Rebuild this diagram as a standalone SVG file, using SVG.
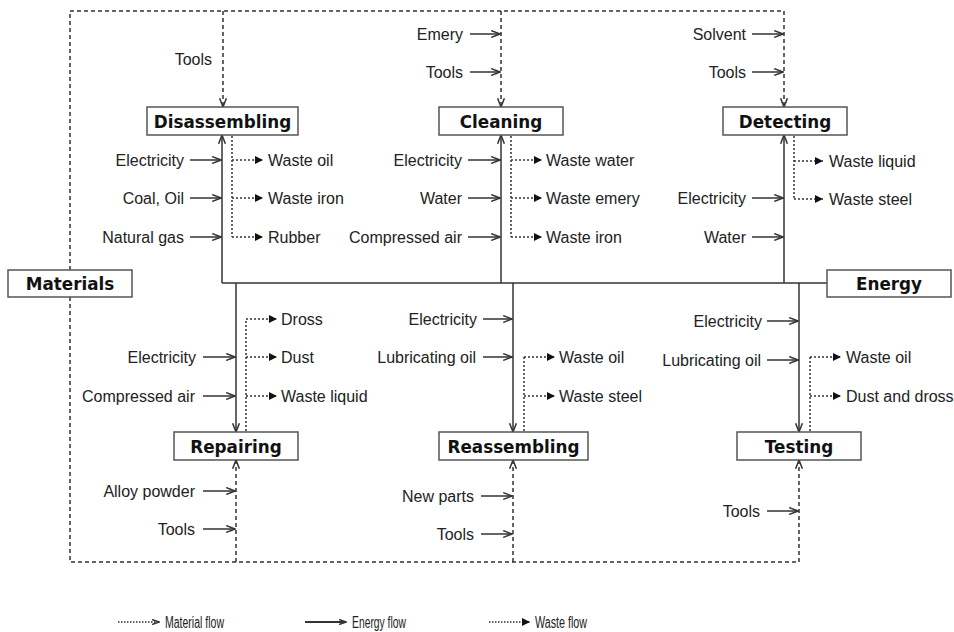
<svg xmlns="http://www.w3.org/2000/svg" width="954" height="632" viewBox="0 0 954 632">
<defs>
<marker id="open" viewBox="0 0 10 8" refX="9.3" refY="4" markerWidth="10" markerHeight="8" markerUnits="userSpaceOnUse" orient="auto">
<path d="M0.5,0.6 L9.3,4 L0.5,7.4" fill="none" stroke="#333" stroke-width="1.5"/>
</marker>
<marker id="sopen" viewBox="0 0 8 6" refX="7.5" refY="3" markerWidth="8" markerHeight="6" markerUnits="userSpaceOnUse" orient="auto">
<path d="M0.5,0.5 L7.5,3 L0.5,5.5" fill="none" stroke="#333" stroke-width="1.5"/>
</marker>
<marker id="tri" viewBox="0 0 8 8" refX="8" refY="4" markerWidth="8" markerHeight="8" markerUnits="userSpaceOnUse" orient="auto">
<path d="M0,0 L8,4 L0,8 z" fill="#111"/>
</marker>
<style>
.box{fill:#fff;stroke:#555;stroke-width:1.5}
.bl{font-family:"DejaVu Sans","Liberation Sans",Arial,sans-serif;font-weight:bold;font-size:16.8px;fill:#111;text-anchor:middle}
.t{font-family:"Liberation Sans",Arial,sans-serif;font-size:16px;fill:#222}
.e{text-anchor:end}
.lg{font-family:"Liberation Sans",Arial,sans-serif;font-size:16px;fill:#222}
.en{fill:none;stroke:#333;stroke-width:1.5}
.ea{fill:none;stroke:#333;stroke-width:1.5;marker-end:url(#open)}
.ma{fill:none;stroke:#333;stroke-width:1.5;stroke-dasharray:4 3}
.maa{fill:none;stroke:#333;stroke-width:1.5;stroke-dasharray:4 3;marker-end:url(#open)}
.w{fill:none;stroke:#333;stroke-width:1.5;stroke-dasharray:2 2}
.wa{fill:none;stroke:#333;stroke-width:1.5;stroke-dasharray:2 2;marker-end:url(#tri)}
</style>
</defs>

<g id="connectors">
<!-- material flow frame -->
<path class="ma" d="M70,270 V11 H784"/>
<path class="ma" d="M70,297 V562 H799"/>
<path class="maa" d="M223,11 V107"/>
<path class="maa" d="M501,11 V107"/>
<path class="maa" d="M784,11 V107"/>
<path class="maa" d="M236,562 V460"/>
<path class="maa" d="M513,562 V460"/>
<path class="maa" d="M799,562 V460"/>
<!-- energy bus -->
<path class="en" d="M222,283 H827"/>
<path class="ea" d="M222,283 V135"/>
<path class="ea" d="M501,283 V135"/>
<path class="ea" d="M784,283 V135"/>
<path class="ea" d="M236,283 V432"/>
<path class="ea" d="M513,283 V432"/>
<path class="ea" d="M799,283 V432"/>
<!-- input arrows: disassembling -->
<path class="ea" d="M190,160 H221"/>
<path class="ea" d="M190,198 H221"/>
<path class="ea" d="M190,237 H221"/>
<!-- cleaning -->
<path class="ea" d="M470,34 H500"/>
<path class="ea" d="M470,72 H500"/>
<path class="ea" d="M468,160 H500"/>
<path class="ea" d="M468,198 H500"/>
<path class="ea" d="M468,237 H500"/>
<!-- detecting -->
<path class="ea" d="M752,34 H783"/>
<path class="ea" d="M752,72 H783"/>
<path class="ea" d="M752,198 H783"/>
<path class="ea" d="M752,237 H783"/>
<!-- repairing -->
<path class="ea" d="M203,357 H235"/>
<path class="ea" d="M203,396 H235"/>
<path class="ea" d="M203,491 H235"/>
<path class="ea" d="M203,529 H235"/>
<!-- reassembling -->
<path class="ea" d="M483,319 H512"/>
<path class="ea" d="M483,357 H512"/>
<path class="ea" d="M481,496 H512"/>
<path class="ea" d="M481,534 H512"/>
<!-- testing -->
<path class="ea" d="M767,321 H798"/>
<path class="ea" d="M767,360 H798"/>
<path class="ea" d="M767,511 H798"/>
<!-- waste: disassembling -->
<path class="w" d="M232,136 V237"/>
<path class="wa" d="M232,160 H263"/>
<path class="wa" d="M232,198 H263"/>
<path class="wa" d="M232,237 H263"/>
<!-- waste: cleaning -->
<path class="w" d="M511,136 V237"/>
<path class="wa" d="M511,160 H542"/>
<path class="wa" d="M511,198 H542"/>
<path class="wa" d="M511,237 H542"/>
<!-- waste: detecting -->
<path class="w" d="M794,136 V199"/>
<path class="wa" d="M794,161 H823"/>
<path class="wa" d="M794,199 H823"/>
<!-- waste: repairing -->
<path class="w" d="M246,431 V319"/>
<path class="wa" d="M246,319 H277"/>
<path class="wa" d="M246,357 H277"/>
<path class="wa" d="M246,396 H277"/>
<!-- waste: reassembling -->
<path class="w" d="M524,431 V357"/>
<path class="wa" d="M524,357 H555"/>
<path class="wa" d="M524,396 H555"/>
<!-- waste: testing -->
<path class="w" d="M810,431 V357"/>
<path class="wa" d="M810,357 H841"/>
<path class="wa" d="M810,396 H841"/>
</g>

<g id="materials"><rect class="box" x="8" y="270" width="124" height="27"/><text class="bl" x="70" y="290">Materials</text></g>
<g id="energy"><rect class="box" x="827" y="270" width="124" height="27"/><text class="bl" x="889" y="290">Energy</text></g>
<g id="disassembling"><rect class="box" x="147" y="107" width="151" height="28"/><text class="bl" x="222.5" y="127.5">Disassembling</text></g>
<g id="cleaning"><rect class="box" x="439" y="107" width="124" height="28"/><text class="bl" x="501" y="127.5">Cleaning</text></g>
<g id="detecting"><rect class="box" x="723" y="107" width="124" height="28"/><text class="bl" x="785" y="127.5">Detecting</text></g>
<g id="repairing"><rect class="box" x="174" y="432" width="124" height="28"/><text class="bl" x="236" y="452.5">Repairing</text></g>
<g id="reassembling"><rect class="box" x="439" y="432" width="149" height="28"/><text class="bl" x="513.5" y="452.5">Reassembling</text></g>
<g id="testing"><rect class="box" x="737" y="432" width="124" height="28"/><text class="bl" x="799" y="452.5">Testing</text></g>

<g id="labels">
<text class="t e" x="212" y="64.5">Tools</text>
<text class="t e" x="184" y="165.5">Electricity</text>
<text class="t e" x="184" y="203.5">Coal, Oil</text>
<text class="t e" x="184" y="242.5">Natural gas</text>
<text class="t" x="268" y="165.5">Waste oil</text>
<text class="t" x="268" y="203.5">Waste iron</text>
<text class="t" x="268" y="242.5">Rubber</text>

<text class="t e" x="463" y="39.5">Emery</text>
<text class="t e" x="463" y="77.5">Tools</text>
<text class="t e" x="462" y="165.5">Electricity</text>
<text class="t e" x="462" y="203.5">Water</text>
<text class="t e" x="462" y="242.5">Compressed air</text>
<text class="t" x="546" y="165.5">Waste water</text>
<text class="t" x="546" y="203.5">Waste emery</text>
<text class="t" x="546" y="242.5">Waste iron</text>

<text class="t e" x="746" y="39.5">Solvent</text>
<text class="t e" x="746" y="77.5">Tools</text>
<text class="t e" x="746" y="203.5">Electricity</text>
<text class="t e" x="746" y="242.5">Water</text>
<text class="t" x="829" y="166.5">Waste liquid</text>
<text class="t" x="829" y="204.5">Waste steel</text>

<text class="t e" x="196" y="362.5">Electricity</text>
<text class="t e" x="195" y="401.5">Compressed air</text>
<text class="t e" x="195" y="496.5">Alloy powder</text>
<text class="t e" x="195" y="534.5">Tools</text>
<text class="t" x="281" y="324.5">Dross</text>
<text class="t" x="281" y="362.5">Dust</text>
<text class="t" x="281" y="401.5">Waste liquid</text>

<text class="t e" x="477" y="324.5">Electricity</text>
<text class="t e" x="476" y="362.5">Lubricating oil</text>
<text class="t e" x="474" y="501.5">New parts</text>
<text class="t e" x="474" y="539.5">Tools</text>
<text class="t" x="559" y="362.5">Waste oil</text>
<text class="t" x="559" y="401.5">Waste steel</text>

<text class="t e" x="762" y="326.5">Electricity</text>
<text class="t e" x="761" y="365.5">Lubricating oil</text>
<text class="t e" x="760" y="516.5">Tools</text>
<text class="t" x="846" y="362.5">Waste oil</text>
<text class="t" x="846" y="401.5">Dust and dross</text>
</g>

<g id="legend">
<path fill="none" stroke="#333" stroke-width="1.3" stroke-dasharray="1.5 1.5" d="M118,622 H159" marker-end="url(#sopen)"/>
<text class="lg" x="165" y="627.5" textLength="59" lengthAdjust="spacingAndGlyphs">Material flow</text>
<path fill="none" stroke="#333" stroke-width="1.8" d="M305,622 H346" marker-end="url(#sopen)"/>
<text class="lg" x="352" y="627.5" textLength="54" lengthAdjust="spacingAndGlyphs">Energy flow</text>
<path fill="none" stroke="#333" stroke-width="1.3" stroke-dasharray="1.5 1.5" d="M489,622 H530" marker-end="url(#tri)"/>
<text class="lg" x="535" y="627.5" textLength="52" lengthAdjust="spacingAndGlyphs">Waste flow</text>
</g>
</svg>
